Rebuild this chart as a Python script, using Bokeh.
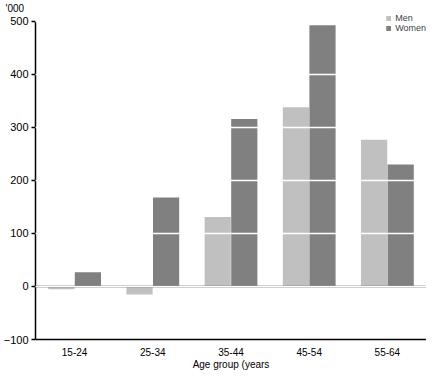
from bokeh.plotting import figure
from bokeh.models import Range1d, FactorRange, Span, Legend, LegendItem, FixedTicker, ColumnDataSource
from bokeh.transform import dodge
from bokeh.embed import file_html
from bokeh.resources import INLINE

categories = ["15-24", "25-34", "35-44", "45-54", "55-64"]
men = [-5, -15, 131, 338, 277]
women = [27, 168, 316, 493, 230]
y_ticks = [-100, 0, 100, 200, 300, 400, 500]

FONT = "Liberation Sans"
MEN_C = "#c0c0c0"
WOMEN_C = "#808080"

src = ColumnDataSource(dict(cat=categories, men=men, women=women))

p = figure(width=426, height=372, output_backend="svg", toolbar_location=None,
           x_range=FactorRange(*categories, range_padding=0), y_range=Range1d(-100, 515),
           min_border_left=30, min_border_right=0, min_border_top=9, min_border_bottom=26)
p.outline_line_color = None
p.background_fill_color = "white"

p.title.text = "'000"
p.title.align = "left"
p.title.offset = -30
p.title.standoff = 0
p.title.text_line_height = 0.9
p.title.text_font = FONT
p.title.text_font_size = "10px"
p.title.text_font_style = "normal"
p.title.text_color = "black"

r_m = p.vbar(x=dodge("cat", -0.17, range=p.x_range), top="men", bottom=0, width=0.335,
             source=src, fill_color=MEN_C, line_color=None)
r_w = p.vbar(x=dodge("cat", 0.17, range=p.x_range), top="women", bottom=0, width=0.335,
             source=src, fill_color=WOMEN_C, line_color=None)

p.xgrid.visible = False
p.ygrid.ticker = FixedTicker(ticks=y_ticks)
p.ygrid.grid_line_color = "white"
p.ygrid.grid_line_width = 1.5
p.ygrid.level = "overlay"

p.add_layout(Span(location=0, dimension="width", line_color="black", line_width=1.5))

p.yaxis.bounds = (-100, 500)
p.yaxis.ticker = FixedTicker(ticks=y_ticks)
p.yaxis.major_label_overrides = {-100: "\u2212100"}
p.yaxis.minor_tick_line_color = None
p.yaxis.major_tick_out = 4
p.yaxis.major_tick_in = 0
p.yaxis.axis_line_color = "black"
p.yaxis.axis_line_width = 1.5
p.yaxis.major_tick_line_width = 1.5
p.yaxis.major_label_text_font = FONT
p.yaxis.major_label_text_font_size = "11px"
p.yaxis.major_label_text_color = "black"
p.yaxis.major_label_standoff = 3

p.xaxis.axis_label = "Age group (years"
p.xaxis.axis_label_text_font = FONT
p.xaxis.axis_label_text_font_size = "10px"
p.xaxis.axis_label_text_font_style = "normal"
p.xaxis.axis_label_text_color = "black"
p.xaxis.axis_label_standoff = 0
p.xaxis.major_tick_line_color = None
p.xaxis.minor_tick_line_color = None
p.xaxis.axis_line_color = "black"
p.xaxis.axis_line_width = 1.5
p.xaxis.major_label_text_font = FONT
p.xaxis.major_label_text_font_size = "10px"
p.xaxis.major_label_text_color = "black"
p.xaxis.major_label_standoff = 2

legend = Legend(items=[LegendItem(label="Men", renderers=[r_m]),
                       LegendItem(label="Women", renderers=[r_w])],
                location="top_right", orientation="vertical",
                label_text_font=FONT, label_text_font_size="9px",
                glyph_width=6, glyph_height=6, label_height=9, label_standoff=4,
                spacing=0, padding=0, margin=0, border_line_color=None,
                background_fill_alpha=0)
p.add_layout(legend)

open("out.html", "w").write(file_html(p, INLINE))
